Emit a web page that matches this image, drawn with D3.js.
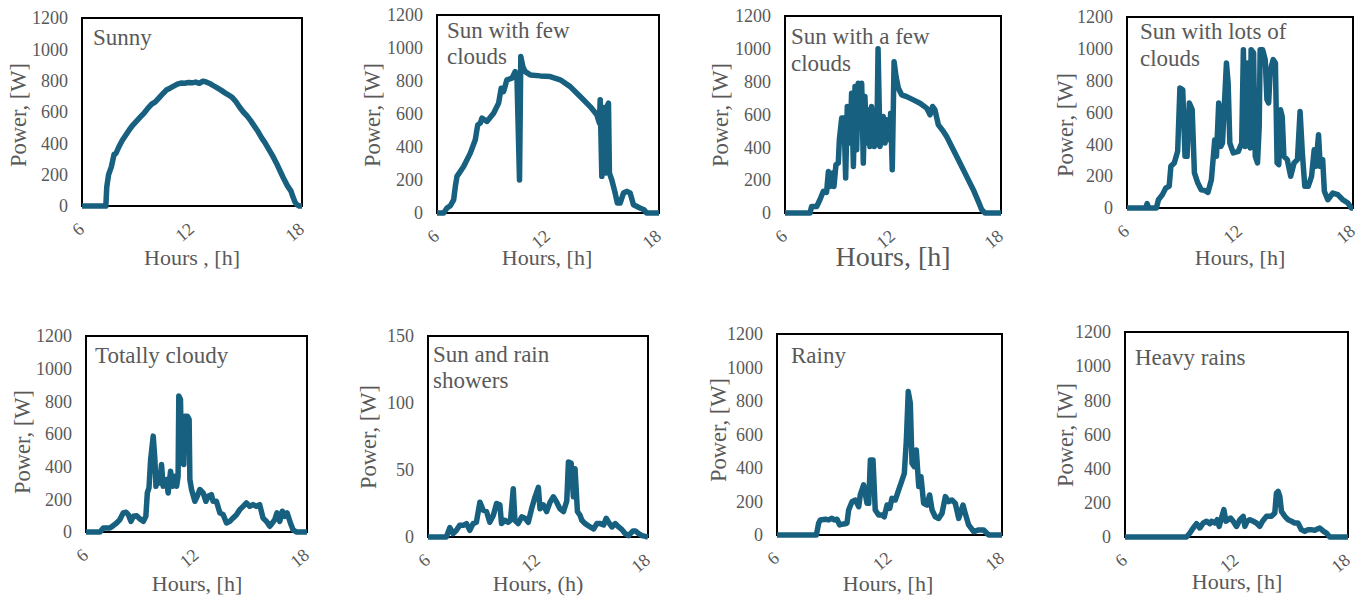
<!DOCTYPE html>
<html>
<head>
<meta charset="utf-8">
<script src="https://cdn.jsdelivr.net/npm/d3@7"></script>
<style>
  html, body { margin: 0; padding: 0; background: #ffffff; }
  svg { display: block; }
  text { font-family: "Liberation Serif", "Times New Roman", serif; fill: #595959; }
</style>
</head>
<body>
<svg id="chart" width="1365" height="602"></svg>
<script>
// Hours of the day on every x axis
const hourDomain = [6, 18];
const hourTicks = [6, 12, 18];

// Power tick labels
const powerTicks = [0, 200, 400, 600, 800, 1000, 1200];
const showerTicks = [0, 50, 100, 150];

// Panel titles (one entry per text line)
const titles = [
  ["Sunny"],
  ["Sun with few", "clouds"],
  ["Sun with a few", "clouds"],
  ["Sun with lots of", "clouds"],
  ["Totally cloudy"],
  ["Sun and rain", "showers"],
  ["Rainy"],
  ["Heavy rains"]
];

// x-axis titles
const xTitles = ["Hours , [h]", "Hours, [h]", "Hours, [h]", "Hours, [h]",
                 "Hours, [h]", "Hours, (h)", "Hours, [h]", "Hours, [h]"];
const yTitle = "Power, [W]";

// Power output per day type: [hour, W]
const sunny = [[6,0],[7.3,0],[7.35,120],[7.45,200],[7.6,250],[7.75,330],[7.85,335],[8.0,375],[8.2,420],[8.4,455],[8.6,490],[8.8,520],[9.0,545],[9.2,570],[9.4,595],[9.6,625],[9.8,650],[10.0,665],[10.2,690],[10.4,715],[10.6,740],[10.8,752],[11.0,765],[11.2,778],[11.4,785],[11.6,784],[11.8,788],[12.0,786],[12.2,791],[12.4,783],[12.6,797],[12.8,790],[13.0,780],[13.2,766],[13.4,752],[13.6,738],[13.8,722],[14.0,708],[14.2,692],[14.4,665],[14.6,630],[14.8,600],[15.0,575],[15.2,545],[15.4,510],[15.6,475],[15.8,435],[16.0,400],[16.2,360],[16.4,320],[16.6,275],[16.8,225],[17.0,175],[17.2,130],[17.4,95],[17.5,60],[17.6,30],[17.7,10],[17.85,0],[18,0]];

const fewClouds = [[6,0],[6.36,0],[6.54,30],[6.72,44],[6.9,80],[6.99,160],[7.08,222],[7.44,282],[7.8,363],[8.07,444],[8.2,534],[8.34,545],[8.43,575],[8.7,555],[9.06,605],[9.33,666],[9.47,756],[9.6,736],[9.78,807],[10.05,817],[10.23,857],[10.32,830],[10.46,200],[10.53,948],[10.64,887],[10.77,857],[11.04,837],[11.58,831],[12.12,827],[12.66,807],[13.2,766],[13.74,706],[14.28,645],[14.64,595],[14.78,545],[14.82,686],[14.91,222],[15.0,640],[15.09,242],[15.18,645],[15.27,666],[15.32,242],[15.45,200],[15.63,121],[15.75,60],[15.9,60],[16.08,121],[16.26,131],[16.44,121],[16.62,50],[16.97,30],[17.19,20],[17.33,0],[18,0]];

const aFewClouds = [[6,0],[7.39,0],[7.48,40],[7.76,40],[7.94,81],[8.13,132],[8.31,126],[8.41,253],[8.5,162],[8.65,243],[8.72,162],[8.83,294],[8.96,304],[9.02,446],[9.15,578],[9.28,578],[9.37,213],[9.46,649],[9.61,426],[9.7,730],[9.8,284],[9.89,770],[9.98,385],[10.07,790],[10.17,709],[10.26,790],[10.35,304],[10.44,709],[10.54,426],[10.63,628],[10.72,405],[10.81,649],[10.96,405],[11.1,430],[11.17,1000],[11.28,405],[11.46,588],[11.56,426],[11.65,568],[11.8,446],[11.87,608],[11.96,264],[12.06,922],[12.17,831],[12.3,760],[12.48,720],[12.76,709],[13.13,689],[13.5,669],[13.87,639],[14.06,598],[14.2,649],[14.33,628],[14.52,537],[14.8,497],[14.98,466],[15.35,385],[15.72,304],[16.09,223],[16.46,142],[16.74,71],[16.93,20],[17.11,0],[18,0]];

const lotsOfClouds = [[6,0],[6.99,0],[7.07,27],[7.15,0],[7.56,0],[7.67,52],[7.88,84],[8.06,126],[8.24,136],[8.33,262],[8.51,283],[8.69,356],[8.81,754],[8.96,743],[9.08,325],[9.19,325],[9.31,660],[9.46,618],[9.58,220],[9.76,157],[9.94,115],[10.12,111],[10.3,98],[10.48,178],[10.66,429],[10.75,325],[10.87,660],[10.98,387],[11.07,408],[11.28,911],[11.37,785],[11.46,408],[11.64,346],[11.91,356],[12.09,408],[12.18,995],[12.27,387],[12.39,911],[12.45,471],[12.54,377],[12.59,995],[12.72,974],[12.81,325],[12.93,283],[13.02,513],[13.07,995],[13.2,995],[13.34,932],[13.43,681],[13.52,660],[13.61,869],[13.76,932],[13.88,911],[13.97,283],[14.06,272],[14.15,618],[14.24,576],[14.33,325],[14.51,304],[14.69,199],[14.87,283],[15.05,304],[15.19,607],[15.31,346],[15.44,136],[15.62,136],[15.8,199],[15.94,366],[16.03,262],[16.17,460],[16.26,262],[16.39,304],[16.48,105],[16.66,52],[16.93,94],[17.19,84],[17.46,52],[17.73,31],[17.91,0],[18,0]];

const totallyCloudy = [[6,0],[6.76,0],[6.94,25],[7.12,25],[7.3,25],[7.48,39],[7.66,55],[7.84,76],[8.02,117],[8.17,121],[8.3,106],[8.44,65],[8.57,96],[8.75,100],[8.93,80],[9.11,65],[9.25,96],[9.33,239],[9.42,270],[9.51,444],[9.65,587],[9.74,444],[9.8,280],[9.92,362],[10.01,300],[10.1,413],[10.19,280],[10.37,321],[10.46,239],[10.59,372],[10.7,280],[10.83,341],[10.92,280],[11.0,341],[11.04,832],[11.13,812],[11.19,423],[11.24,689],[11.31,413],[11.37,709],[11.51,709],[11.6,689],[11.64,321],[11.73,260],[11.91,188],[12.04,219],[12.18,260],[12.36,239],[12.51,188],[12.63,219],[12.81,229],[12.9,188],[13.08,188],[13.27,117],[13.45,106],[13.63,55],[13.81,65],[13.99,86],[14.17,106],[14.35,137],[14.53,157],[14.71,178],[14.89,157],[15.07,168],[15.25,157],[15.43,168],[15.61,86],[15.8,65],[15.98,35],[16.12,55],[16.25,76],[16.37,117],[16.52,65],[16.66,127],[16.79,96],[16.92,117],[17.1,55],[17.24,14],[17.42,0],[18,0]];

const rainShowers = [[6,0],[7.0,0],[7.19,7],[7.37,2.5],[7.55,5],[7.73,8.7],[7.92,8.7],[8.1,10],[8.28,5],[8.46,10],[8.64,11],[8.83,26],[9.01,20],[9.19,19],[9.37,11],[9.56,16],[9.74,25],[9.92,24],[10.01,10],[10.19,12.5],[10.38,11],[10.5,12.5],[10.65,36],[10.74,12.5],[10.92,10],[11.11,15],[11.29,14],[11.47,11],[11.65,21],[11.84,30],[12.02,37],[12.11,21],[12.29,24],[12.47,19],[12.66,26],[12.84,30],[13.02,26],[13.2,21],[13.39,19],[13.57,27],[13.66,56],[13.81,55],[13.93,30],[14.02,51],[14.15,19],[14.3,16],[14.39,12.5],[14.57,10],[14.85,7.5],[15.03,6],[15.21,10],[15.39,10],[15.58,9],[15.72,14],[15.85,11],[16.03,7.5],[16.21,10],[16.4,7.5],[16.58,5.5],[16.76,2.5],[16.94,1],[17.18,4.5],[17.31,4.5],[17.49,2.5],[17.67,1],[17.85,0.5],[18,0]];

const rainy = [[6,0],[8.1,0],[8.22,70],[8.31,90],[8.58,94],[8.76,90],[8.93,100],[9.06,90],[9.2,94],[9.34,60],[9.56,66],[9.73,70],[9.82,149],[10.0,199],[10.18,209],[10.36,169],[10.44,239],[10.62,299],[10.8,189],[10.89,189],[10.98,448],[11.12,448],[11.24,149],[11.42,119],[11.6,119],[11.72,109],[11.87,179],[12.01,159],[12.13,219],[12.31,209],[12.49,269],[12.67,328],[12.79,368],[12.9,567],[13.0,856],[13.11,786],[13.2,428],[13.32,408],[13.43,507],[13.56,289],[13.68,348],[13.82,189],[14.0,179],[14.14,239],[14.27,149],[14.44,109],[14.62,99],[14.8,129],[14.98,229],[15.16,199],[15.33,209],[15.51,189],[15.69,99],[15.92,179],[16.04,129],[16.22,60],[16.49,20],[16.76,30],[17.02,30],[17.29,0],[18,0]];

const heavyRains = [[6,0],[9.31,0],[9.49,23],[9.67,53],[9.85,78],[10.03,53],[10.21,82],[10.39,92],[10.57,78],[10.66,92],[10.84,82],[10.96,101],[11.07,62],[11.19,111],[11.32,160],[11.43,92],[11.55,101],[11.68,111],[11.82,92],[12.0,62],[12.18,101],[12.36,121],[12.45,62],[12.57,92],[12.72,101],[12.9,92],[13.07,82],[13.25,62],[13.4,92],[13.61,121],[13.88,121],[14.06,140],[14.15,257],[14.24,267],[14.33,238],[14.42,150],[14.6,121],[14.78,101],[14.96,92],[15.13,82],[15.31,82],[15.49,43],[15.67,33],[15.85,43],[16.03,43],[16.21,39],[16.48,53],[16.69,33],[16.84,23],[17.02,0],[18,0]];

const series = [sunny, fewClouds, aFewClouds, lotsOfClouds, totallyCloudy, rainShowers, rainy, heavyRains];
const yTickSets = [powerTicks, powerTicks, powerTicks, powerTicks, powerTicks, showerTicks, powerTicks, powerTicks];

// Panel geometry: plot box, title anchor, axis title placement
const layout = [
  { box: [82, 302, 18, 206],   title: [93, [45]],        yt: [18, 115],   xt: [192, 265, 22] },
  { box: [437, 659, 15, 213],  title: [447, [38, 64]],   yt: [372, 115],  xt: [547, 265, 22] },
  { box: [785, 1001, 16, 213], title: [791, [44, 71]],   yt: [720, 115],  xt: [893, 266, 28] },
  { box: [1127, 1353, 17, 208],title: [1140, [39, 66]],  yt: [1065, 125], xt: [1240, 265, 22] },
  { box: [86, 307, 336, 532],  title: [95, [363]],       yt: [22, 442],   xt: [197, 591, 22] },
  { box: [428, 648, 336, 537], title: [433, [362, 388]], yt: [368, 437],  xt: [538, 591, 22] },
  { box: [777, 1002, 334, 535],title: [791, [363]],      yt: [718, 430],  xt: [888, 591, 22] },
  { box: [1125, 1348, 332, 537],title: [1135, [365]],    yt: [1065, 435], xt: [1237, 589, 22] }
];

const lineColor = "#17607f";
const tickFont = '"Liberation Serif", "Times New Roman", serif';
const svg = d3.select("#chart");

series.forEach((data, i) => {
  const L = layout[i];
  const [left, right, top, bottom] = L.box;
  const ticks = yTickSets[i];
  const x = d3.scaleLinear().domain(hourDomain).range([left, right]);
  const y = d3.scaleLinear().domain([0, d3.max(ticks)]).range([bottom, top]);

  const g = svg.append("g");

  // y axis labels
  const yAxis = d3.axisLeft(y).tickValues(ticks).tickSize(0).tickPadding(14).tickFormat(d3.format("d"));
  const ya = g.append("g").attr("transform", `translate(${left},0)`).call(yAxis);
  ya.attr("font-family", tickFont).attr("font-size", 18);
  ya.select(".domain").remove();
  ya.selectAll("text").attr("fill", "#595959");

  // x axis labels, rotated
  const xAxis = d3.axisBottom(x).tickValues(hourTicks).tickSize(0).tickFormat(d3.format("d"));
  const xa = g.append("g").attr("transform", `translate(0,${bottom})`).call(xAxis);
  xa.attr("font-family", tickFont).attr("font-size", 18);
  xa.select(".domain").remove();
  xa.selectAll("text")
    .attr("fill", "#595959")
    .attr("text-anchor", "end")
    .attr("dy", null).attr("y", null)
    .attr("transform", "translate(3,25) rotate(-40)");

  // plot frame
  g.append("rect")
    .attr("x", left).attr("y", top)
    .attr("width", right - left).attr("height", bottom - top)
    .attr("fill", "none").attr("stroke", "#000").attr("stroke-width", 2);

  // power curve
  const line = d3.line().x(d => x(d[0])).y(d => y(d[1]));
  g.append("path")
    .datum(data)
    .attr("d", line)
    .attr("fill", "none")
    .attr("stroke", lineColor)
    .attr("stroke-width", 5.5)
    .attr("stroke-linejoin", "round");

  // panel title
  const t = g.append("text").attr("x", L.title[0]).style("font-size", "23px");
  titles[i].forEach((s, k) => {
    t.append("tspan").attr("x", L.title[0]).attr("y", L.title[1][k]).text(s);
  });

  // axis titles
  g.append("text")
    .attr("transform", `translate(${L.yt[0]},${L.yt[1]}) rotate(-90)`)
    .attr("text-anchor", "middle").attr("dy", "0.35em")
    .style("font-size", "22.5px")
    .text(yTitle);

  g.append("text")
    .attr("x", L.xt[0]).attr("y", L.xt[1])
    .attr("text-anchor", "middle")
    .style("font-size", L.xt[2] + "px")
    .text(xTitles[i]);
});
</script>
</body>
</html>
